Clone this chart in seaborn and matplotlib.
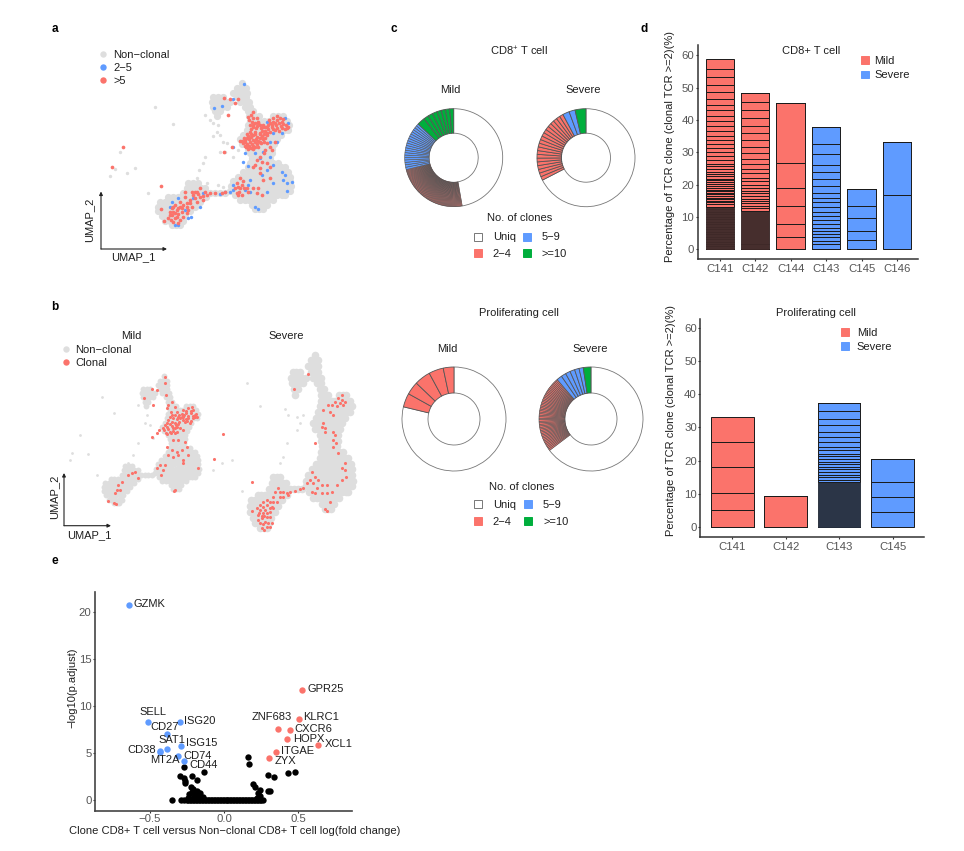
import matplotlib
matplotlib.use('Agg')
import matplotlib.pyplot as plt
from matplotlib.lines import Line2D
from matplotlib.patches import Patch
import pandas as pd
import seaborn as sns

RED = '#FB736B'
BLUE = '#5F9BFF'
GREEN = '#00AE3C'
GREY = '#DEDEDE'

# ---- UMAP: grey cell body, one entry per row (umap2 -> umap1 values)
core_rows = {
    220: [605],
    234: [590, 604, 618],
    248: [580, 594, 608, 620],
    262: [520, 534, 548, 590, 604, 618],
    276: [515, 529, 543, 557, 570, 600, 614, 628],
    290: [518, 532, 546, 560, 615, 630],
    304: [526, 540, 625, 640],
    318: [530, 628, 642, 656, 700, 714, 728],
    332: [630, 644, 658, 672, 686, 700, 714, 728, 742],
    346: [625, 639, 653, 667, 681, 695, 709, 723, 737, 748],
    360: [620, 634, 648, 662, 676, 690, 704, 718, 732, 744],
    374: [610, 624, 638, 652, 666, 680, 694, 708, 722],
    388: [600, 614, 628, 642, 656, 670, 684, 698, 712],
    402: [605, 619, 633, 647, 661, 675, 689, 703],
    416: [625, 639, 653, 667, 681, 695],
    430: [630, 644, 658, 672, 686, 695],
    444: [635, 649, 663, 677, 691],
    458: [630, 644, 658, 672, 686, 700, 714],
    472: [625, 639, 653, 667, 681, 695, 709, 723, 735],
    486: [610, 624, 638, 652, 666, 680, 694, 708, 722, 736, 745],
    500: [595, 609, 623, 637, 651, 665, 679, 693, 707, 721, 735, 750],
    514: [580, 594, 608, 622, 636, 650, 664, 678, 692, 706, 720, 734, 750],
    528: [572, 586, 600, 614, 628, 642, 656, 670, 684, 698, 712, 726, 740, 753],
    542: [570, 584, 598, 612, 626, 640, 654, 668, 682, 696, 710, 724, 738, 750],
    556: [585, 599, 613, 627, 641, 655, 669, 683, 697, 711, 725, 735],
    570: [600, 614, 628, 642, 656, 670, 684, 698],
    584: [635, 650, 665, 680],
    596: [645, 658, 670],
    520: [445, 459, 473],
    534: [440, 454, 468, 482, 496],
    548: [430, 444, 458, 472, 486, 500, 510, 525, 540, 555],
    562: [385, 399, 413, 427, 441, 455, 469, 483, 497],
    576: [360, 374, 388, 402, 416, 430, 444, 458, 472, 480],
    590: [355, 369, 383, 397, 411, 425, 439, 453, 465],
    604: [355, 369, 383, 397, 411, 425, 439, 450],
    618: [365, 379, 393, 407, 421, 435],
    632: [375, 389, 403, 417, 430],
    644: [395, 408, 420],
}
sparse_a_x = [345, 398, 495, 510, 520, 535, 530, 520, 540, 550, 555, 540, 560, 495, 490, 478, 470, 240, 285, 262, 225, 210, 325, 500, 535, 550, 578, 595]
sparse_a_y = [290, 343, 315, 330, 340, 345, 365, 378, 375, 395, 425, 427, 400, 440, 460, 480, 505, 425, 475, 490, 478, 497, 550, 520, 525, 530, 440, 420]

# panel a, clone size >5 and 2-5
big_x = [640, 655, 670, 648, 662, 630, 645, 660, 675, 625, 640, 652, 665, 615, 628, 640, 655, 668, 610, 622, 636, 650, 662, 618, 632, 645, 600, 680, 690, 700, 712, 725, 738, 745, 695, 708, 722, 735, 700, 712, 690, 705, 718, 680, 632, 640, 625, 650, 655, 640, 680, 690, 675, 695, 672, 660, 650, 665, 645, 680, 690, 660, 640, 705,
         552, 570, 595, 585, 565, 577, 553, 250, 215, 363,
         600, 590, 605, 585, 598, 612, 590, 605, 625, 640, 655, 650, 665, 670, 690, 660,
         510, 495, 480, 490, 470, 460, 450, 470, 440, 455, 480, 465, 436, 420, 405, 395, 410, 425, 395, 410, 400, 415, 430, 390, 445, 440, 420, 372, 362, 405, 385, 435, 525, 555, 545,
         634, 652, 668, 640, 620, 634, 646, 660, 672, 612, 622, 634, 648, 660, 674, 606, 616, 630, 644, 660, 672, 614, 626, 640, 654, 625, 640, 685, 696, 706, 718, 730, 742, 698, 712, 725, 685, 675, 688, 720, 730, 665, 680, 660, 645, 635, 628, 630,
         400, 415, 400, 415, 390, 425, 405, 392, 420, 440, 430, 450, 465, 475, 455, 488, 500,
         595, 610, 600, 620, 595]
big_y = [345, 340, 345, 355, 355, 365, 365, 368, 362, 378, 375, 380, 378, 390, 388, 390, 392, 388, 400, 402, 402, 403, 400, 412, 414, 412, 392, 350, 340, 335, 330, 335, 345, 350, 352, 345, 348, 358, 325, 318, 365, 360, 362, 375, 315, 325, 320, 325, 335, 305, 400, 410, 420, 420, 430, 440, 450, 455, 465, 460, 470, 475, 470, 395,
         265, 266, 268, 280, 315, 412, 425, 412, 472, 528,
         505, 520, 525, 535, 545, 535, 550, 555, 545, 535, 535, 550, 555, 510, 505, 490,
         550, 545, 560, 570, 545, 555, 570, 575, 580, 590, 535, 545, 547, 590, 585, 595, 600, 605, 615, 620, 635, 640, 620, 605, 600, 610, 575, 632, 597, 610, 625, 560, 550, 545, 548,
         358, 348, 352, 352, 372, 372, 372, 372, 372, 384, 384, 382, 386, 385, 384, 394, 396, 395, 397, 396, 395, 407, 408, 408, 410, 418, 418, 345, 345, 338, 340, 342, 355, 358, 354, 355, 358, 350, 330, 325, 328, 362, 368, 345, 338, 335, 330, 345,
         590, 595, 605, 612, 615, 595, 625, 630, 630, 590, 585, 580, 565, 552, 545, 558, 555,
         530, 512, 535, 535, 555]
small_x = [612, 523, 547, 578, 580, 615, 610, 625, 645, 660, 670, 690, 700, 680, 725, 735, 730, 755, 740, 740, 700, 680, 655, 645, 630, 625, 615, 570, 580, 630, 700, 725, 735, 745, 680, 690, 405, 415, 445, 453, 480, 490, 395, 415, 390, 435, 460, 540, 555, 580, 665, 710]
small_y = [222, 295, 288, 268, 410, 428, 455, 468, 430, 445, 425, 440, 465, 480, 485, 495, 510, 515, 520, 543, 520, 545, 597, 590, 510, 525, 540, 545, 525, 545, 370, 370, 325, 340, 335, 395, 645, 645, 625, 620, 590, 550, 575, 565, 590, 600, 565, 552, 545, 540, 495, 395]

# panel b, clonal cells and stray grey cells
mild_x = [385, 400, 415, 375, 390, 405, 418, 372, 385, 398, 412, 380, 392, 405, 390, 430, 445, 458, 425, 438, 452, 465, 430, 445, 458, 468, 435, 420, 450,
          395, 385, 405, 380, 392, 410, 375, 375, 350, 335, 378, 340, 312, 405, 420, 430, 400, 415, 435, 380, 395, 410, 425, 440, 400, 415, 430, 385, 445, 360, 350, 370, 362, 375, 475, 430, 405, 402, 350, 335, 358,
          285, 275, 265, 295, 245, 235, 230, 225, 205, 222, 228, 240,
          395, 410, 382, 395, 408, 378, 400, 415, 390, 382, 370, 395, 405, 410, 437, 452, 432, 445, 460, 425, 438, 452, 465, 442, 428, 418, 455, 470]
mild_y = [360, 355, 350, 375, 372, 368, 365, 390, 388, 385, 382, 402, 400, 398, 350, 330, 325, 330, 342, 340, 340, 345, 352, 355, 355, 342, 365, 355, 368,
          305, 315, 320, 325, 335, 335, 250, 232, 270, 268, 285, 315, 293, 385, 385, 390, 420, 420, 425, 440, 450, 455, 450, 440, 470, 465, 480, 465, 465, 495, 505, 510, 525, 495, 505, 490, 570, 572, 400, 412, 390,
          515, 520, 525, 535, 545, 555, 570, 580, 603, 610, 613, 570,
          365, 358, 382, 378, 376, 398, 392, 372, 395, 368, 383, 345, 345, 395, 332, 333, 345, 347, 348, 350, 358, 362, 352, 362, 360, 345, 322, 350]
severe_x = [905, 895, 905, 915, 900, 885, 875, 890, 865, 850, 880, 870, 910, 850, 845, 855, 855, 880, 885, 878, 888, 880, 825, 893, 915, 915, 905, 762, 805, 905, 918, 890,
            815, 825, 810, 800, 820, 835, 845, 830, 815, 825, 860, 860, 875, 845, 870, 855, 860, 790, 780, 765,
            750, 740, 730, 715, 705, 720, 700, 690, 710, 680, 695, 670, 660, 675, 690, 660, 670, 680, 655, 665, 690, 675, 660, 680, 665, 695, 700, 655, 635, 685, 637, 550, 523,
            668, 682, 665, 658, 672, 690, 680, 700, 650, 670, 690, 672, 720, 730, 745]
severe_y = [285, 295, 300, 305, 310, 305, 315, 318, 315, 330, 345, 335, 315, 370, 380, 385, 395, 395, 405, 420, 430, 440, 430, 460, 490, 510, 505, 267, 222, 540, 530, 555,
            515, 530, 540, 548, 550, 540, 555, 565, 575, 578, 555, 580, 575, 580, 605, 628, 632, 565, 568, 572,
            575, 580, 590, 565, 575, 590, 590, 605, 605, 615, 620, 605, 615, 630, 635, 630, 640, 650, 645, 655, 650, 665, 670, 680, 685, 670, 625, 660, 632, 670, 547, 402, 477,
            622, 640, 648, 638, 648, 625, 600, 605, 625, 672, 680, 690, 575, 575, 585]
stray_x = [185, 120, 95, 90, 143, 170, 222, 295, 320, 330, 315, 295, 280, 265, 340,
           622, 660, 735, 745, 770, 780, 790, 770, 740, 730, 720, 575, 545, 520, 605]
stray_y = [292, 405, 460, 480, 462, 525, 340, 315, 345, 375, 370, 430, 465, 490, 415,
           250, 318, 328, 345, 350, 370, 345, 390, 430, 470, 490, 480, 490, 510, 572]

# ---- donuts: clockwise from 12 o'clock (white, then clone wedges)
cd8_mild_uniq = [47.2]
cd8_mild_low = [0.35] * 68
cd8_mild_mid = [0.8] * 20
cd8_mild_high = [2.6, 1.6, 1.6, 1.6, 1.4, 1.4, 1.4, 1.3]
cd8_severe_uniq = [67.5]
cd8_severe_low = [1.24] * 20
cd8_severe_mid = [2.2, 2.0]
cd8_severe_high = [3.6]
pro_mild_uniq = [78.75]
pro_mild_low = [4.3, 4.05, 5.0, 4.55, 3.33]
pro_severe_uniq = [64.7]
pro_severe_low = [0.48] * 50
pro_severe_mid = [1.7, 1.5, 1.5, 1.5, 1.4, 1.3]
pro_severe_high = [2.4]

# ---- stacked clones, top of the bar first
cd8_samples = ['C141', 'C142', 'C144', 'C143', 'C145', 'C146']
cd8_groups = [RED, RED, RED, BLUE, BLUE, BLUE]
cd8_clones = [
    [3.0, 2.6, 2.6, 2.1, 2.0, 1.9, 1.7, 1.8, 1.5, 1.6, 1.5, 1.4, 1.3, 1.4, 1.2, 1.2, 1.2, 1.2, 1.2, 0.8, 1.0, 0.8, 0.7, 0.6, 0.7, 0.6, 0.6, 0.6, 0.6, 0.5, 0.5, 0.5, 0.5, 0.5, 0.5, 0.5, 0.5, 0.5, 0.5, 0.6, 0.7] + [0.22] * 60,
    [2.7, 2.5, 2.6, 2.3, 2.1, 2.4, 2.2, 1.8, 1.7, 1.6, 1.6, 1.3, 1.3, 1.2, 1.0, 1.0, 1.0, 0.7, 0.8, 0.8, 0.7, 0.7, 0.8, 0.7, 0.8] + [0.3] * 40,
    [18.7, 7.5, 5.7, 5.7, 3.8, 3.9],
    [5.3, 3.1, 3.3, 2.3, 2.0, 2.2, 2.1, 1.6, 1.4, 1.4, 1.6, 1.2, 1.2, 1.2, 1.2, 1.0, 1.0, 1.0, 1.0, 1.0, 1.7],
    [5.2, 3.9, 4.0, 2.7, 2.9],
    [16.5, 16.8],
]
pro_samples = ['C141', 'C142', 'C143', 'C145']
pro_groups = [RED, RED, BLUE, BLUE]
pro_clones = [
    [7.8, 7.6, 7.6, 5.2, 5.1],
    [9.3],
    [2.5, 2.2, 2.0, 2.0, 1.6, 1.6, 1.3, 1.1, 1.0, 0.8, 0.8, 0.8, 0.8, 0.8, 0.8, 0.8, 0.8, 0.8, 0.7, 0.7] + [0.3] * 45,
    [6.8, 4.5, 4.6, 4.5],
]

# ---- volcano
blue_genes = ['GZMK', 'SELL', 'ISG20', 'CD27', 'SAT1', 'ISG15', 'CD38', 'MT2A', 'CD74', 'CD44']
blue_fc = [-0.64, -0.515, -0.30, -0.387, -0.384, -0.29, -0.434, -0.312, -0.27, -0.43]
blue_p = [20.7, 8.3, 8.3, 7.0, 5.45, 5.77, 5.2, 4.64, 4.14, 5.05]
red_genes = ['GPR25', 'KLRC1', 'ZNF683', 'CXCR6', 'HOPX', 'XCL1', 'ITGAE', 'ZYX']
red_fc = [0.528, 0.508, 0.362, 0.445, 0.422, 0.631, 0.35, 0.301]
red_p = [11.68, 8.64, 7.54, 7.4, 6.44, 5.8, 5.06, 4.5]
ns_fc = [0.16, 0.169, 0.297, 0.335, 0.434, 0.479, -0.272, -0.133, -0.294, -0.267, -0.218, -0.18, -0.263, -0.26, 0.198, 0.209, 0.243, 0.299, 0.31, 0.231, 0.243,
         -0.225, -0.207, -0.218, -0.184, -0.162, -0.196, -0.139, -0.235, -0.17, 0.22, -0.24, -0.2, -0.22, -0.15, -0.18,
         -0.353, -0.29, -0.27, -0.25, -0.24, -0.23, -0.22, -0.21, -0.2, -0.19, -0.18, -0.17, -0.16, -0.15, -0.14, -0.13, -0.12, -0.11, -0.1, -0.09, -0.08, -0.07, -0.06, -0.05, -0.04, -0.03, -0.02, -0.01, 0.0, 0.01, 0.02, 0.03, 0.04, 0.05, 0.06, 0.07, 0.08, 0.09, 0.1, 0.11, 0.12, 0.13, 0.14, 0.15, 0.16, 0.17, 0.18, 0.19, 0.2, 0.21, 0.22, 0.23, 0.24, 0.25, 0.26]
ns_p = [4.6, 3.79, 2.65, 2.44, 2.83, 2.97, 3.54, 2.94, 2.58, 2.37, 2.55, 2.12, 1.84, 2.0, 1.66, 1.42, 1.06, 0.92, 0.96, 0.71, 0.42,
        1.35, 1.13, 0.88, 0.95, 0.7, 0.53, 0.35, 0.6, 0.4, 0.25, 0.2, 0.3, 0.15, 0.2, 0.25,
        0, 0, 0, 0, 0, 0, 0, 0, 0, 0, 0, 0, 0, 0, 0, 0, 0, 0, 0, 0, 0, 0, 0, 0, 0, 0, 0, 0, 0, 0, 0, 0, 0, 0, 0, 0, 0, 0, 0, 0, 0, 0, 0, 0, 0, 0, 0, 0, 0, 0, 0, 0, 0, 0, 0]


sns.set_theme(style='white')
plt.rcParams['font.family'] = ['Liberation Sans', 'DejaVu Sans']
plt.rcParams['mathtext.default'] = 'regular'
plt.rcParams['axes.unicode_minus'] = True

W, H = 964, 851
fig = plt.figure(figsize=(W / 100, H / 100), dpi=100, facecolor='white')


def add_box(x0, y0, x1, y1):
    """Axes from a pixel box of the figure (y measured from the top)."""
    ax = fig.add_axes([x0 / W, 1 - y1 / H, (x1 - x0) / W, (y1 - y0) / H])
    ax.patch.set_alpha(0)
    return ax


def draw_body(ax, s):
    xs = [x for row in core_rows.values() for x in row]
    ys = [y for y, row in core_rows.items() for _ in row]
    sns.scatterplot(x=xs, y=ys, s=s, color=GREY, linewidth=0, ax=ax, legend=False)


def cells(ax, xs, ys, color, s):
    sns.scatterplot(x=xs, y=ys, s=s, color=color, linewidth=0, ax=ax, legend=False)


def finish_umap(ax, x_max, y_max):
    ax.set_xlim(0, x_max)
    ax.set_ylim(y_max, 0)
    ax.axis('off')


# panel a
ax_a = add_box(40, 10, 373.3, 276.7)
draw_body(ax_a, 27)
cells(ax_a, sparse_a_x, sparse_a_y, GREY, 6)
cells(ax_a, small_x, small_y, BLUE, 6)
cells(ax_a, big_x, big_y, RED, 7)
finish_umap(ax_a, 1000, 800)

# panel b, the two bodies share the same cells
ax_mild = add_box(19.4, 310.7, 257.7, 549.9)
draw_body(ax_mild, 18)
finish_umap(ax_mild, 1000, 800)
ax_sev = add_box(158.3, 264.7, 416.6, 592)
draw_body(ax_sev, 30)
finish_umap(ax_sev, 1000, 800)
ax_b = add_box(40, 300, 380, 540)
cells(ax_b, stray_x, stray_y, GREY, 4)
cells(ax_b, mild_x, mild_y, RED, 5)
cells(ax_b, severe_x, severe_y, RED, 5)
finish_umap(ax_b, 1020, 720)


def donut(cx, cy, r, inner, uniq, low, mid, high):
    pad = 1.05
    ax = add_box(cx - r * pad, cy - r * pad, cx + r * pad, cy + r * pad)
    values = uniq + low + mid + high
    colors = ['white'] * len(uniq) + [RED] * len(low) + [BLUE] * len(mid) + [GREEN] * len(high)
    wedges, _ = ax.pie(values, colors=colors, startangle=90, counterclock=False, radius=1,
                       wedgeprops=dict(width=1 - inner, edgecolor='#555555', linewidth=0.6, clip_on=False))
    for wedge, value in zip(wedges, values):
        if value < 1:
            wedge.set_linewidth(0.42)
    wedges[0].set_edgecolor('#777777')
    ax.set_xlim(-pad, pad)
    ax.set_ylim(-pad, pad)


donut(453.7, 157.7, 49, 0.5, cd8_mild_uniq, cd8_mild_low, cd8_mild_mid, cd8_mild_high)
donut(586, 157.7, 49, 0.5, cd8_severe_uniq, cd8_severe_low, cd8_severe_mid, cd8_severe_high)
donut(454, 419, 52, 0.5, pro_mild_uniq, pro_mild_low, [], [])
donut(591, 419, 52, 0.5, pro_severe_uniq, pro_severe_low, pro_severe_mid, pro_severe_high)


def clone_bars(ax, samples, groups, clones):
    rows = []
    palette = {}
    for sample, color, sizes in zip(samples, groups, clones):
        for i, pct in enumerate(sizes):
            key = f'{sample}-{i}'
            rows.append({'sample': sample, 'clone': key, 'pct': pct})
            palette[key] = color
    df = pd.DataFrame(rows)
    sns.histplot(df, x='sample', hue='clone', weights='pct', multiple='stack', discrete=True,
                 shrink=0.8, palette=palette, alpha=1, edgecolor='#1a1a1a', linewidth=0.7,
                 legend=False, ax=ax)
    for bar in ax.patches:
        if 0 < bar.get_height() < 0.35:
            bar.set_linewidth(0.5)
    ax.set_xlabel('')
    ax.set_ylabel('')
    ax.set_yticks([0, 10, 20, 30, 40, 50, 60])
    sns.despine(ax=ax)
    for side in ('left', 'bottom'):
        ax.spines[side].set_color('#333333')
        ax.spines[side].set_linewidth(1.1)
    ax.tick_params(left=True, bottom=True, length=1.5, width=0.8, color='#333333',
                   labelsize=8.2, labelcolor='#555555', pad=1)
    ax.tick_params(axis='x', pad=2.5)


ax_d1 = add_box(697.7, 45, 917.7, 258.7)
clone_bars(ax_d1, cd8_samples, cd8_groups, cd8_clones)
ax_d1.set_xlim(-0.62, 5.58)
ax_d1.set_ylim(-2.9, 63.2)

ax_d2 = add_box(700.3, 319.3, 924, 536.7)
clone_bars(ax_d2, pro_samples, pro_groups, pro_clones)
ax_d2.set_xlim(-0.6, 3.59)
ax_d2.set_ylim(-3.02, 62.7)

# panel e
ax_e = add_box(95, 592, 351.7, 810.7)
cells(ax_e, ns_fc, ns_p, 'black', 21)
cells(ax_e, blue_fc, blue_p, BLUE, 21)
cells(ax_e, red_fc, red_p, RED, 21)
ax_e.set_xlim(-0.87, 0.861)
ax_e.set_ylim(-1.13, 22.09)
ax_e.set_xticks([-0.5, 0, 0.5])
ax_e.set_xticklabels(['\u22120.5', '0.0', '0.5'])
ax_e.set_yticks([0, 5, 10, 15, 20])
sns.despine(ax=ax_e)
for side in ('left', 'bottom'):
    ax_e.spines[side].set_color('#444444')
    ax_e.spines[side].set_linewidth(1.2)
ax_e.tick_params(left=True, bottom=True, length=1.5, width=0.8, color='#333333',
                 labelsize=8.2, labelcolor='#555555', pad=1)

# all free text and arrows sit on one pixel-sized layer
top = add_box(0, 0, W, H)
top.set_xlim(0, W)
top.set_ylim(H, 0)
top.axis('off')
TXT = '#1f1f1f'


def label(x, y, s, size=8, ha='center', **kw):
    top.text(x, y, s, fontsize=size, ha=ha, va='center', color=kw.pop('color', TXT), **kw)


for x, y, s in [(55, 29, 'a'), (55, 307, 'b'), (394, 29, 'c'), (644, 29, 'd'), (55, 561, 'e')]:
    label(x, y, s, size=8.5, fontweight='bold', color='black')

label(518.7, 51, 'CD8$^{+}$ T cell')
label(518.7, 312.7, 'Proliferating cell')
label(450.7, 90, 'Mild')
label(583, 90, 'Severe')
label(447.7, 349, 'Mild')
label(590, 349, 'Severe')
label(520, 218.3, 'No. of clones')
label(521.3, 486.7, 'No. of clones')
label(811, 51, 'CD8+ T cell')
label(815.5, 312.7, 'Proliferating cell')
label(131, 336, 'Mild')
label(286.5, 336, 'Severe')
label(670, 147, 'Percentage of TCR clone (clonal TCR >=2)(%)', rotation=90)
label(670.7, 421, 'Percentage of TCR clone (clonal TCR >=2)(%)', rotation=90)
label(235, 831, 'Clone CD8+ T cell versus Non\u2212clonal CD8+ T cell log(fold change)')
label(72, 688, '\u2212log10(p.adjust)', rotation=90)

# UMAP axis arrows
for ox, oy, ex, ty, lab1, lab2 in [(101, 249, 167, 191.5, (133, 257), (89, 220)),
                                    (64, 525.7, 111, 473, (89, 535), (54, 496.7))]:
    for end in [(ex, oy), (ox, ty)]:
        top.annotate('', xy=end, xytext=(ox, oy),
                     arrowprops=dict(arrowstyle='-|>', lw=0.8, color='#222222', shrinkA=0, shrinkB=0, mutation_scale=5))
    label(lab1[0], lab1[1], 'UMAP_1')
    label(lab2[0], lab2[1], 'UMAP_2', rotation=90)

# gene labels of the volcano
gene_spots = {
    'GZMK': (134, 604.3), 'GPR25': (307, 689), 'KLRC1': (303.3, 717.3), 'ZNF683': (251.7, 716.7),
    'CXCR6': (294, 729), 'HOPX': (292.7, 739.3), 'XCL1': (324.3, 744.3), 'ITGAE': (281.3, 751),
    'ZYX': (275, 761.3), 'SELL': (139.3, 711.7), 'ISG20': (184, 721.3), 'CD27': (150.3, 727.3),
    'SAT1': (158.7, 740.3), 'ISG15': (185.7, 743.3), 'CD38': (127.7, 750), 'MT2A': (150.3, 760.3),
    'CD74': (183.3, 755.7), 'CD44': (189.3, 765.3),
}
for gene in blue_genes + red_genes:
    label(gene_spots[gene][0], gene_spots[gene][1], gene, ha='left')


def dot(color):
    return Line2D([], [], marker='o', linestyle='none', color=color, markersize=4.6, markeredgewidth=0)


def square(color, edge=None):
    return Patch(facecolor=color, edgecolor=edge or color, linewidth=0.7)


def legend(handles, labels, x, y, **kw):
    leg = top.legend(handles, labels, loc='upper left', bbox_to_anchor=(x, y),
                     bbox_transform=top.transData, frameon=False, borderpad=0,
                     borderaxespad=0, fontsize=8, labelcolor=TXT, **kw)
    top.add_artist(leg)
    top.legend_ = None


legend([dot(GREY), dot(BLUE), dot(RED)], ['Non\u2212clonal', '2\u22125', '>5'], 97.7, 49.5,
       handlelength=1, handletextpad=0.4, labelspacing=0.28)
legend([dot(GREY), dot(RED)], ['Non\u2212clonal', 'Clonal'], 60.5, 345,
       handlelength=1, handletextpad=0.3, labelspacing=0.28)
legend([square(RED), square(BLUE)], ['Mild', 'Severe'], 861.4, 56,
       handlelength=0.7, handleheight=0.7, handletextpad=0.46, labelspacing=0.4)
legend([square(RED), square(BLUE)], ['Mild', 'Severe'], 840.5, 327.8,
       handlelength=0.8, handleheight=0.8, handletextpad=0.66, labelspacing=0.33)

clone_handles = [square('white', '#777777'), square(RED), square(BLUE), square(GREEN)]
clone_labels = ['Uniq', '2\u22124', '5\u22129', '>=10']
legend(clone_handles, clone_labels, 474.4, 232.5, ncols=2, handlelength=0.7, handleheight=0.7,
       handletextpad=0.95, labelspacing=0.56, columnspacing=0.64)
legend(clone_handles, clone_labels, 473.8, 499.8, ncols=2, handlelength=0.7, handleheight=0.7,
       handletextpad=1.0, labelspacing=0.62, columnspacing=0.76)

fig.savefig('out.png', dpi=100, facecolor='white')
